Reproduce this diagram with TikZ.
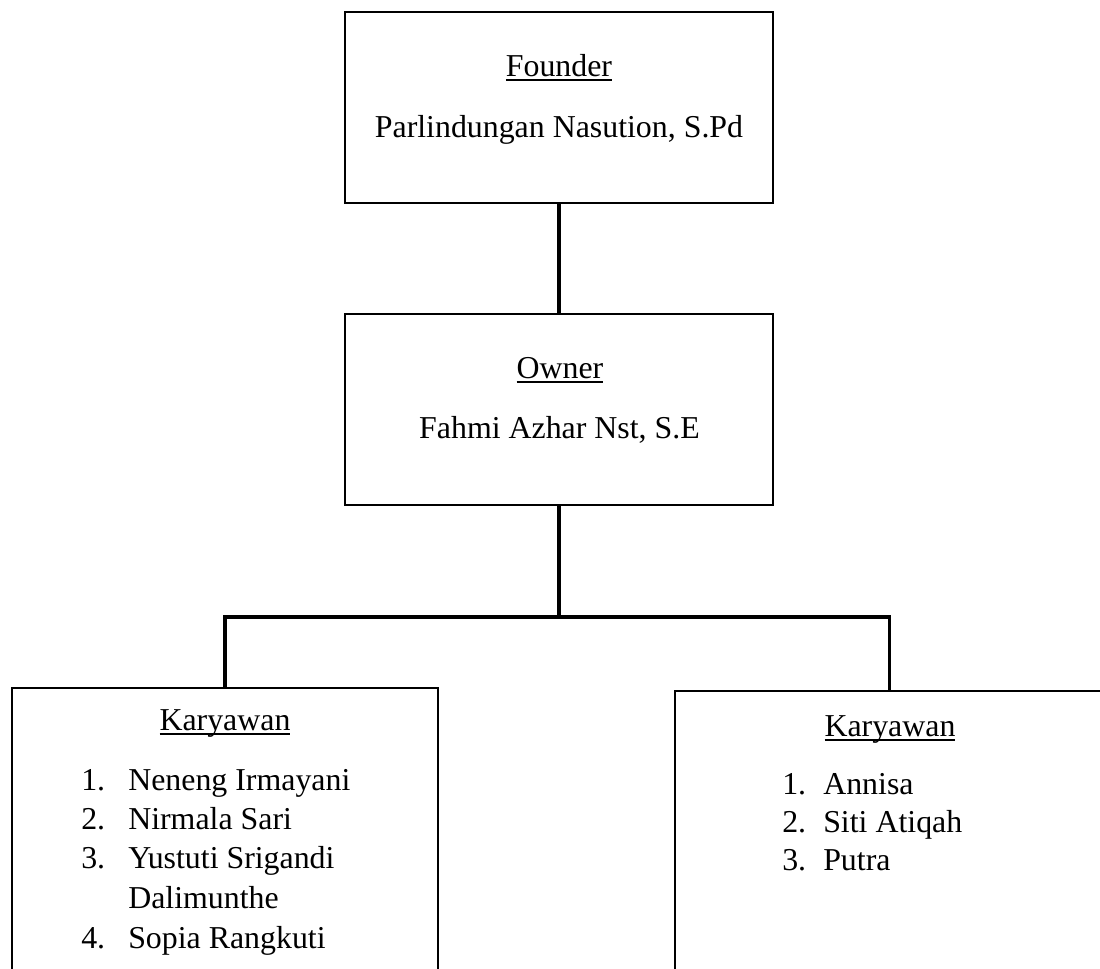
\documentclass[tikz,border=0pt]{standalone}
\usepackage{fontspec}
\setmainfont{Liberation Serif}
\newcommand{\myul}[1]{\leavevmode\setbox0\hbox{#1}\rlap{\rule[-3.6pt]{\wd0}{1.1pt}}\box0}
\begin{document}
\begin{tikzpicture}[x=0.75pt,y=-0.75pt,
  box/.style={draw,line width=1.7pt,rectangle,inner sep=0pt},
  conn/.style={line width=2.7pt},
  txt/.style={anchor=base,inner sep=0pt,font=\fontsize{23.9}{28}\selectfont},
  ltxt/.style={txt,anchor=base west}]
\useasboundingbox (0,0) rectangle (1100,968);
\clip (0,0) rectangle (1100,968);
% boxes
\node[box,minimum width=321pt,minimum height=143.25pt] (founder) at (559,107.5) {};
\node[box,minimum width=321pt,minimum height=143.25pt] (owner) at (559,409.5) {};
\node[box,minimum width=319.5pt,minimum height=226.5pt] (left) at (225,839) {};
\node[box,minimum width=321.75pt,minimum height=224.25pt] (right) at (889.5,840.5) {};
% texts
\node[txt] (tf1) at (559,76) {\myul{Founder}};
\node[txt] (tf2) at (559,137) {Parlindungan Nasution, S.Pd};
\node[txt] (to1) at (560,378) {\myul{Owner}};
\node[txt] (to2) at (559.5,438) {Fahmi Azhar Nst, S.E};
\node[txt] (tl0) at (225,730) {\myul{Karyawan}};
\node[ltxt] (ln1) at (81,790.5) {1.};
\node[ltxt] (lm1) at (128,790.5) {Neneng Irmayani};
\node[ltxt] (ln2) at (81,829.5) {2.};
\node[ltxt] (lm2) at (128,829.5) {Nirmala Sari};
\node[ltxt] (ln3) at (81,868.5) {3.};
\node[ltxt] (lm3) at (128,868.5) {Yustuti Srigandi};
\node[ltxt] (lm3b) at (128,908.5) {Dalimunthe};
\node[ltxt] (ln4) at (81,948) {4.};
\node[ltxt] (lm4) at (128,948) {Sopia Rangkuti};
\node[txt] (tr0) at (890,736) {\myul{Karyawan}};
\node[ltxt] (rn1) at (782,794) {1.};
\node[ltxt] (rm1) at (823,794) {Annisa};
\node[ltxt] (rn2) at (782,832) {2.};
\node[ltxt] (rm2) at (823,832) {Siti Atiqah};
\node[ltxt] (rn3) at (782,870) {3.};
\node[ltxt] (rm3) at (823,870) {Putra};
% connectors
\coordinate (j) at (559,617);
\draw[conn] (founder.south) -- (owner.north);
\draw[conn] (owner.south) -- (j);
\draw[conn] (left.north) |- (j) -| (right.north);
\end{tikzpicture}
\end{document}
